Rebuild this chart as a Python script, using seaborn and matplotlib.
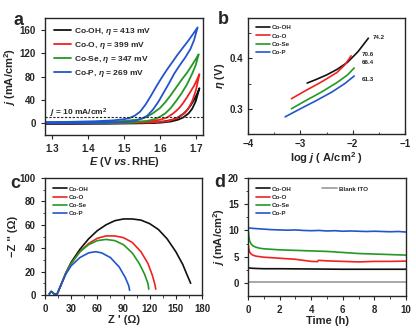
import numpy as np
import pandas as pd
from matplotlib import pyplot as plt
import seaborn as sns

W, H = 416, 330

samples = ["Co-OH", "Co-O", "Co-Se", "Co-P"]
colors = ["#111111", "#ee2222", "#229922", "#2255cc"]
overpotentials = [413, 399, 347, 269]

# panel a: LSV loops (forward scan then backward scan)
lsv_E = {
    "Co-OH": [1.28, 1.45, 1.55, 1.60, 1.63, 1.65, 1.665, 1.68, 1.69, 1.70, 1.71,
              1.705, 1.695, 1.685, 1.675, 1.665, 1.65, 1.635, 1.61, 1.58, 1.50, 1.28],
    "Co-O": [1.28, 1.50, 1.58, 1.62, 1.64, 1.655, 1.67, 1.68, 1.69, 1.70, 1.71,
             1.705, 1.695, 1.685, 1.675, 1.665, 1.655, 1.645, 1.635, 1.62, 1.60,
             1.57, 1.50, 1.40, 1.28],
    "Co-Se": [1.28, 1.45, 1.52, 1.56, 1.585, 1.60, 1.615, 1.63, 1.645, 1.66, 1.675,
              1.69, 1.70, 1.708,
              1.70, 1.69, 1.675, 1.66, 1.645, 1.63, 1.615, 1.60, 1.58, 1.56, 1.54,
              1.50, 1.45, 1.35, 1.28],
    "Co-P": [1.28, 1.40, 1.50, 1.53, 1.55, 1.565, 1.58, 1.595, 1.61, 1.625, 1.64,
             1.655, 1.67, 1.685, 1.695, 1.705,
             1.695, 1.68, 1.665, 1.65, 1.635, 1.62, 1.605, 1.59, 1.575, 1.56, 1.545,
             1.53, 1.515, 1.50, 1.47, 1.42, 1.35, 1.28],
}
lsv_j = {
    "Co-OH": [-1, -0.8, 0, 1, 3, 6, 10, 17, 25, 38, 60,
              52, 40, 30, 22, 16, 10, 6, 3, 1.5, 0.5, 0],
    "Co-O": [0, 0.5, 1.5, 3.5, 7, 11, 18, 26, 38, 56, 84,
             77, 64, 54, 44, 35, 27, 21, 16, 10, 6, 3.5, 2, 1.3, 1],
    "Co-Se": [0, 0.5, 1.5, 3.5, 7, 11, 17, 26, 38, 51, 66, 85, 100, 118,
              110, 100, 86, 74, 61, 48, 36, 26, 17, 10, 6.5, 4, 2.5, 1.8, 1.5],
    "Co-P": [0, 0.5, 2, 4, 8, 13, 23, 36, 52, 68, 85, 99, 112, 127, 142, 164,
             155, 142, 130, 118, 105, 92, 78, 63, 47, 32, 20, 13, 9, 7, 5, 3.5,
             2.5, 2],
}

# panel b: Tafel
tafel_x = {
    "Co-OH": [-2.87, -2.7, -2.5, -2.3, -2.1, -1.9, -1.7],
    "Co-O": [-3.17, -2.9, -2.6, -2.3, -2.15, -2.03],
    "Co-Se": [-3.17, -2.9, -2.6, -2.3, -2.1, -1.97],
    "Co-P": [-3.29, -3.0, -2.7, -2.4, -2.15, -1.97],
}
tafel_y = {
    "Co-OH": [0.351, 0.358, 0.367, 0.378, 0.392, 0.413, 0.440],
    "Co-O": [0.320, 0.336, 0.353, 0.372, 0.387, 0.405],
    "Co-Se": [0.300, 0.316, 0.333, 0.352, 0.367, 0.381],
    "Co-P": [0.284, 0.300, 0.316, 0.333, 0.350, 0.365],
}
tafel_slopes = ["74.2", "70.6", "66.4", "61.3"]
tafel_label_x = [-1.62, -1.82, -1.82, -1.82]
tafel_label_y = [0.442, 0.408, 0.391, 0.359]

# panel c: Nyquist
eis_re = {
    "Co-OH": [5, 7, 9, 11, 14, 18, 24, 30, 40, 50, 60, 70, 80, 90, 100, 110,
              120, 130, 140, 150, 158, 163, 167],
    "Co-O": [5, 7, 9, 11, 14, 18, 24, 30, 40, 50, 60, 70, 80, 90, 100, 110,
             118, 123, 126, 127],
    "Co-Se": [5, 7, 9, 11, 14, 18, 24, 30, 40, 50, 60, 70, 80, 90, 100, 108,
              114, 118, 119],
    "Co-P": [5, 7, 9, 11, 14, 18, 24, 30, 40, 50, 58, 65, 75, 85, 92, 96, 97],
}
eis_im = {
    "Co-OH": [1, 3, 2, 0.5, 1, 8, 19, 28, 39, 48, 55, 60, 63.5, 65, 65, 64,
              61, 56, 48, 37, 26, 17, 10],
    "Co-O": [1, 3, 2, 0.5, 1, 8, 19, 27, 37, 44, 48.5, 50.5, 50.5, 49, 45, 37,
             27, 17, 9, 5],
    "Co-Se": [1, 3, 2, 0.5, 1, 8, 19, 27, 37, 43, 46.5, 47.5, 46.5, 43, 36, 27,
              18, 10, 5],
    "Co-P": [1, 3, 2, 0.5, 1, 8, 18, 25, 32, 36, 37, 36, 32, 24, 15, 8, 4],
}

# panel d: stability
stab_t = {
    "Co-OH": [0, 0.2, 0.5, 1, 2, 4, 6, 8, 10],
    "Co-O": [0, 0.05, 0.1, 0.2, 0.3, 0.5, 1, 1.5, 2, 3, 3.5, 4, 4.4, 4.45, 5,
             6, 7, 8, 9, 10],
    "Co-Se": [0, 0.05, 0.1, 0.2, 0.3, 0.5, 0.75, 1, 1.5, 2, 3, 4, 5, 6, 7, 8, 9, 10],
    "Co-P": [0, 0.1, 0.3, 0.5, 1, 1.5, 2, 2.5, 3, 3.5, 4, 4.5, 5, 5.5, 6, 6.5,
             7, 7.5, 8, 8.5, 9, 9.5, 10],
}
stab_j = {
    "Co-OH": [2.9, 2.8, 2.75, 2.7, 2.7, 2.65, 2.6, 2.6, 2.6],
    "Co-O": [7.5, 6.5, 5.9, 5.5, 5.3, 5.1, 4.9, 4.8, 4.7, 4.5, 4.3, 4.1, 4.05, 4.3,
             4.2, 4.1, 4.0, 4.1, 4.1, 4.15],
    "Co-Se": [10.5, 9.0, 8.0, 7.4, 7.1, 6.8, 6.6, 6.5, 6.4, 6.3, 6.2, 6.1, 6.0,
              5.8, 5.6, 5.5, 5.4, 5.3],
    "Co-P": [10.5, 10.45, 10.4, 10.35, 10.25, 10.15, 10.1, 10.05, 10.1, 10.0,
             9.95, 10.0, 9.9, 9.95, 9.85, 9.9, 9.85, 9.8, 9.85, 9.8, 9.75, 9.8, 9.7],
}
ito_t = [0, 10]
ito_j = [0.1, 0.1]

sns.set_style("ticks")
plt.rcParams["font.family"] = ["Liberation Sans", "DejaVu Sans"]
plt.rcParams["font.weight"] = "bold"
plt.rcParams["axes.labelweight"] = "bold"
plt.rcParams["mathtext.fontset"] = "custom"
plt.rcParams["mathtext.rm"] = "Liberation Sans:bold"
plt.rcParams["mathtext.it"] = "Liberation Sans:italic:bold"
plt.rcParams["mathtext.bf"] = "Liberation Sans:bold"
plt.rcParams["axes.linewidth"] = 1.0
plt.rcParams["xtick.major.size"] = 3
plt.rcParams["ytick.major.size"] = 3
plt.rcParams["xtick.minor.size"] = 1.8
plt.rcParams["ytick.minor.size"] = 1.8
plt.rcParams["xtick.labelsize"] = 7
plt.rcParams["ytick.labelsize"] = 7


def box(left, top, right, bottom):
    return [left / W, 1 - bottom / H, (right - left) / W, (bottom - top) / H]


def small_legend(ax, x, y, size=4.5, **kw):
    return ax.legend(loc="upper left", bbox_to_anchor=(x, y), frameon=False, fontsize=size,
                     handlelength=2.3, handletextpad=0.3, labelspacing=0.45,
                     borderaxespad=0, borderpad=0, **kw)


fig = plt.figure(figsize=(W / 100, H / 100), dpi=100)

# a
ax = fig.add_axes(box(45, 18, 203, 135))
for name, c, eta in zip(samples, colors, overpotentials):
    sns.lineplot(x=lsv_E[name], y=lsv_j[name], sort=False, estimator=None, color=c,
                 lw=1.3, ax=ax, label=f"{name}, $\\eta$ = {eta} mV")
ax.axhline(10, color="#222222", ls=(0, (2, 1.5)), lw=0.8)
ax.text(1.293, 14, "$j$ = 10 mA/cm$^2$", fontsize=6)
ax.set_xlim(1.28, 1.72)
ax.set_ylim(-20, 180)
ax.set_xticks([1.3, 1.4, 1.5, 1.6, 1.7])
ax.set_yticks([0, 40, 80, 120, 160])
ax.set_xlabel("$E$ (V $vs.$RHE)", fontsize=8, labelpad=1)
ax.set_ylabel("$j$ (mA/cm$^2$)", fontsize=8, labelpad=1)
ax.legend(loc="upper left", bbox_to_anchor=(0.06, 0.93), frameon=False, fontsize=6,
          handlelength=2.0, handletextpad=0.4, labelspacing=0.35, borderaxespad=0,
          borderpad=0)

# b
ax = fig.add_axes(box(248, 18, 405, 134))
for name, c in zip(samples, colors):
    sns.lineplot(x=tafel_x[name], y=tafel_y[name], sort=False, estimator=None, color=c,
                 lw=1.2, ax=ax, label=name)
for s, x, y in zip(tafel_slopes, tafel_label_x, tafel_label_y):
    ax.text(x, y, s, fontsize=4.5, va="center")
ax.set_xlim(-4, -1)
ax.set_ylim(0.25, 0.48)
ax.set_xticks([-4, -3, -2, -1])
ax.set_xticks([-3.5, -2.5, -1.5], minor=True)
ax.set_yticks([0.3, 0.4])
ax.set_yticks([0.35, 0.45], minor=True)
ax.tick_params(which="both", direction="in")
ax.set_xlabel("log $j$ ( A/cm$^2$ )", fontsize=8, labelpad=1)
ax.set_ylabel("$\\eta$ (V)", fontsize=8, labelpad=2)
small_legend(ax, 0.05, 0.94)

# c
ax = fig.add_axes(box(45, 178, 202, 295))
for name, c in zip(samples, colors):
    sns.lineplot(x=eis_re[name], y=eis_im[name], sort=False, estimator=None, color=c,
                 lw=1.2, ax=ax, label=name)
ax.set_xlim(0, 180)
ax.set_ylim(0, 100)
ax.set_xticks(np.arange(0, 181, 30))
ax.set_xticks(np.arange(15, 180, 30), minor=True)
ax.set_yticks(np.arange(0, 101, 20))
ax.set_yticks(np.arange(10, 100, 20), minor=True)
ax.set_xlabel("Z ' (Ω)", fontsize=8, labelpad=1)
ax.set_ylabel("−Z '' (Ω)", fontsize=8, labelpad=1)
small_legend(ax, 0.05, 0.93)

# d
ax = fig.add_axes(box(248, 178, 406, 296))
for name, c in zip(samples, colors):
    sns.lineplot(x=stab_t[name], y=stab_j[name], sort=False, estimator=None, color=c,
                 lw=1.2, ax=ax, label=name)
sns.lineplot(x=ito_t, y=ito_j, color="#999999", lw=1.2, ax=ax, label="Blank ITO")
ax.set_xlim(0, 10)
ax.set_ylim(-2.5, 20)
ax.set_xticks(np.arange(0, 11, 2))
ax.set_xticks(np.arange(1, 10, 2), minor=True)
ax.set_yticks([0, 5, 10, 15, 20])
ax.set_yticks([2.5, 7.5, 12.5, 17.5], minor=True)
ax.set_xlabel("Time (h)", fontsize=8, labelpad=1)
ax.set_ylabel("$j$ (mA/cm$^2$)", fontsize=8, labelpad=1)
handles, labels = ax.get_legend_handles_labels()
leg1 = ax.legend(handles[:4], labels[:4], loc="upper left", bbox_to_anchor=(0.05, 0.93),
                 frameon=False, fontsize=4.5, handlelength=2.3, handletextpad=0.3,
                 labelspacing=0.45, borderaxespad=0, borderpad=0)
ax.add_artist(leg1)
ax.legend(handles[4:], labels[4:], loc="upper left", bbox_to_anchor=(0.47, 0.93),
          frameon=False, fontsize=4.5, handlelength=2.3, handletextpad=0.3,
          borderaxespad=0, borderpad=0)

for letter, x, y in [("a", 14, 12), ("b", 218, 11), ("c", 10, 175), ("d", 214, 174)]:
    fig.text(x / W, 1 - y / H, letter, fontsize=13, fontweight="bold", va="top")

fig.savefig("out.png", dpi=100)
